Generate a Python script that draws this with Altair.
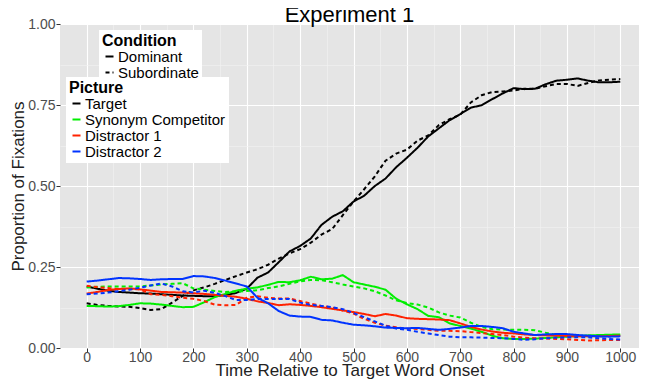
import altair as alt
import pandas as pd

time_ms = list(range(0, 1001, 20))
pictures = ["Target", "Synonym Competitor", "Distractor 1", "Distractor 2"]
conditions = ["Dominant", "Subordinate"]
picture_colors = ["#000000", "#00EE00", "#FF2200", "#0033FF"]

target_dom = [0.19, 0.183, 0.177, 0.173, 0.171, 0.169, 0.168, 0.166, 0.164, 0.162,
              0.161, 0.16, 0.16, 0.163, 0.17, 0.183, 0.217, 0.233, 0.265, 0.298,
              0.315, 0.338, 0.38, 0.405, 0.422, 0.452, 0.47, 0.50, 0.523, 0.558,
              0.587, 0.618, 0.653, 0.678, 0.703, 0.722, 0.742, 0.749, 0.768, 0.786,
              0.802, 0.799, 0.80, 0.814, 0.825, 0.828, 0.832, 0.825, 0.82, 0.82, 0.822]
target_sub = [0.138, 0.133, 0.13, 0.128, 0.127, 0.123, 0.117, 0.12, 0.14, 0.161,
              0.178, 0.187, 0.198, 0.21, 0.222, 0.233, 0.243, 0.257, 0.276, 0.292,
              0.305, 0.325, 0.35, 0.367, 0.41, 0.452, 0.49, 0.53, 0.578, 0.60,
              0.612, 0.64, 0.656, 0.688, 0.706, 0.72, 0.758, 0.78, 0.79, 0.792,
              0.795, 0.80, 0.80, 0.808, 0.815, 0.815, 0.809, 0.818, 0.826, 0.828, 0.83]
synonym_dom = [0.13, 0.129, 0.128, 0.129, 0.133, 0.138, 0.137, 0.134, 0.13, 0.126,
               0.127, 0.141, 0.157, 0.167, 0.177, 0.183, 0.187, 0.195, 0.204, 0.203,
               0.209, 0.22, 0.212, 0.214, 0.225, 0.203, 0.196, 0.189, 0.18, 0.152,
               0.135, 0.12, 0.099, 0.095, 0.076, 0.068, 0.06, 0.05, 0.038, 0.03,
               0.028, 0.028, 0.029, 0.031, 0.033, 0.035, 0.037, 0.039, 0.04, 0.041, 0.042]
synonym_sub = [0.187, 0.189, 0.19, 0.19, 0.19, 0.19, 0.193, 0.196, 0.198, 0.20,
               0.184, 0.18, 0.176, 0.173, 0.174, 0.176, 0.178, 0.185, 0.19, 0.198,
               0.206, 0.21, 0.209, 0.203, 0.196, 0.19, 0.184, 0.175, 0.162, 0.147,
               0.139, 0.134, 0.125, 0.11, 0.10, 0.094, 0.078, 0.065, 0.058, 0.057,
               0.056, 0.056, 0.055, 0.047, 0.04, 0.036, 0.036, 0.036, 0.037, 0.039, 0.04]
distractor1_dom = [0.168, 0.173, 0.179, 0.182, 0.184, 0.181, 0.177, 0.173, 0.172, 0.171,
                   0.169, 0.167, 0.164, 0.161, 0.158, 0.152, 0.144, 0.139, 0.132, 0.135,
                   0.133, 0.13, 0.126, 0.121, 0.116, 0.111, 0.105, 0.098, 0.105, 0.10,
                   0.092, 0.09, 0.089, 0.088, 0.086, 0.076, 0.065, 0.057, 0.051, 0.047,
                   0.045, 0.042, 0.04, 0.039, 0.038, 0.037, 0.036, 0.036, 0.036, 0.037, 0.038]
distractor1_sub = [0.192, 0.188, 0.185, 0.182, 0.182, 0.181, 0.166, 0.164, 0.16, 0.155,
                   0.152, 0.145, 0.134, 0.132, 0.133, 0.155, 0.16, 0.155, 0.153, 0.153,
                   0.145, 0.137, 0.13, 0.125, 0.116, 0.106, 0.09, 0.078, 0.069, 0.064,
                   0.06, 0.059, 0.056, 0.053, 0.053, 0.052, 0.049, 0.046, 0.043, 0.04,
                   0.035, 0.032, 0.03, 0.029, 0.028, 0.027, 0.025, 0.023, 0.024, 0.025, 0.025]
distractor2_dom = [0.205, 0.208, 0.212, 0.216, 0.215, 0.213, 0.21, 0.212, 0.213, 0.213,
                   0.222, 0.221, 0.216, 0.208, 0.199, 0.19, 0.155, 0.138, 0.114, 0.10,
                   0.097, 0.096, 0.087, 0.085, 0.078, 0.072, 0.07, 0.067, 0.063, 0.062,
                   0.061, 0.062, 0.059, 0.056, 0.059, 0.063, 0.068, 0.068, 0.065, 0.061,
                   0.05, 0.045, 0.04, 0.042, 0.043, 0.043, 0.04, 0.038, 0.036, 0.035, 0.036]
distractor2_sub = [0.166, 0.168, 0.171, 0.175, 0.18, 0.186, 0.193, 0.199, 0.19, 0.175,
                   0.171, 0.177, 0.17, 0.16, 0.148, 0.148, 0.151, 0.151, 0.151, 0.151,
                   0.14, 0.133, 0.13, 0.126, 0.12, 0.108, 0.095, 0.082, 0.069, 0.06,
                   0.056, 0.05, 0.045, 0.04, 0.035, 0.033, 0.033, 0.032, 0.031, 0.03,
                   0.028, 0.025, 0.027, 0.03, 0.032, 0.033, 0.033, 0.033, 0.03, 0.028, 0.026]

x_grid = list(range(0, 1001, 50))
y_grid = [0, 0.125, 0.25, 0.375, 0.5, 0.625, 0.75, 0.875, 1.0]

series = {
    ("Target", "Dominant"): target_dom,
    ("Target", "Subordinate"): target_sub,
    ("Synonym Competitor", "Dominant"): synonym_dom,
    ("Synonym Competitor", "Subordinate"): synonym_sub,
    ("Distractor 1", "Dominant"): distractor1_dom,
    ("Distractor 1", "Subordinate"): distractor1_sub,
    ("Distractor 2", "Dominant"): distractor2_dom,
    ("Distractor 2", "Subordinate"): distractor2_sub,
}
rows = []
for (pic, cond), vals in series.items():
    for t, v in zip(time_ms, vals):
        rows.append({"Time": t, "Proportion": v, "Picture": pic, "Condition": cond})
df = pd.DataFrame(rows)

FONT = "Liberation Sans"

x_axis = alt.Axis(
    values=x_grid, format="d", title="Time Relative to Target Word Onset",
    labelExpr="datum.value % 100 == 0 ? datum.label : ''",
    gridColor={"condition": {"test": "datum.value % 100 == 0", "value": "#FFFFFF"}, "value": "#F2F2F2"},
    gridWidth={"condition": {"test": "datum.value % 100 == 0", "value": 1.1}, "value": 0.6},
    tickOpacity={"condition": {"test": "datum.value % 100 == 0", "value": 1}, "value": 0},
    labelPadding=-2, titleY=27, titleBaseline="alphabetic",
)
y_axis = alt.Axis(
    values=y_grid, format=".2f", title="Proportion of Fixations",
    labelExpr="(datum.value * 4) % 1 == 0 ? datum.label : ''",
    gridColor={"condition": {"test": "(datum.value * 4) % 1 == 0", "value": "#FFFFFF"}, "value": "#F2F2F2"},
    gridWidth={"condition": {"test": "(datum.value * 4) % 1 == 0", "value": 1.1}, "value": 0.6},
    tickOpacity={"condition": {"test": "(datum.value * 4) % 1 == 0", "value": 1}, "value": 0},
    labelPadding=1, titleX=-33, titleBaseline="bottom",
)

legend_common = dict(
    orient="none", symbolType="stroke", symbolSize=64, symbolStrokeWidth=2,
    fillColor="white", padding=3, titleFontSize=16, titleFont=FONT, titleFontWeight="bold",
    titleColor="black", labelFontSize=15, labelFont=FONT, labelColor="black",
    rowPadding=0, titlePadding=0, labelOffset=1, labelLimit=300,
)

chart = alt.Chart(df).mark_line(strokeWidth=2).encode(
    x=alt.X("Time:Q", scale=alt.Scale(domain=[-50, 1035], nice=False, zero=False), axis=x_axis),
    y=alt.Y("Proportion:Q", scale=alt.Scale(domain=[0, 1], nice=False), axis=y_axis),
    color=alt.Color("Picture:N", scale=alt.Scale(domain=pictures, range=picture_colors),
                    legend=alt.Legend(title="Picture", legendX=6, legendY=53, **legend_common)),
    strokeDash=alt.StrokeDash("Condition:N", scale=alt.Scale(domain=conditions, range=[[1, 0], [4, 3]]),
                              legend=alt.Legend(title="Condition", legendX=39, legendY=6,
                                                symbolStrokeColor="black", **legend_common)),
).properties(
    width=579, height=324,
    title=alt.TitleParams("Experiment 1", fontSize=22, font=FONT, fontWeight="normal",
                          color="black", anchor="middle", offset=2, dy=12),
    autosize=alt.AutoSizeParams(type="none"),
    padding={"left": 52, "top": 16, "right": 0, "bottom": 33},
).configure_view(
    fill="#E5E5E5", stroke=None,
).configure_axis(
    domain=False, labelFont=FONT, labelFontSize=14, labelColor="#4D4D4D",
    titleFont=FONT, titleFontSize=17, titleFontWeight="normal", titleColor="#222222",
    tickColor="#333333", tickSize=4,
)

chart.save("out.html", embed_options={"renderer": "svg", "actions": False})
